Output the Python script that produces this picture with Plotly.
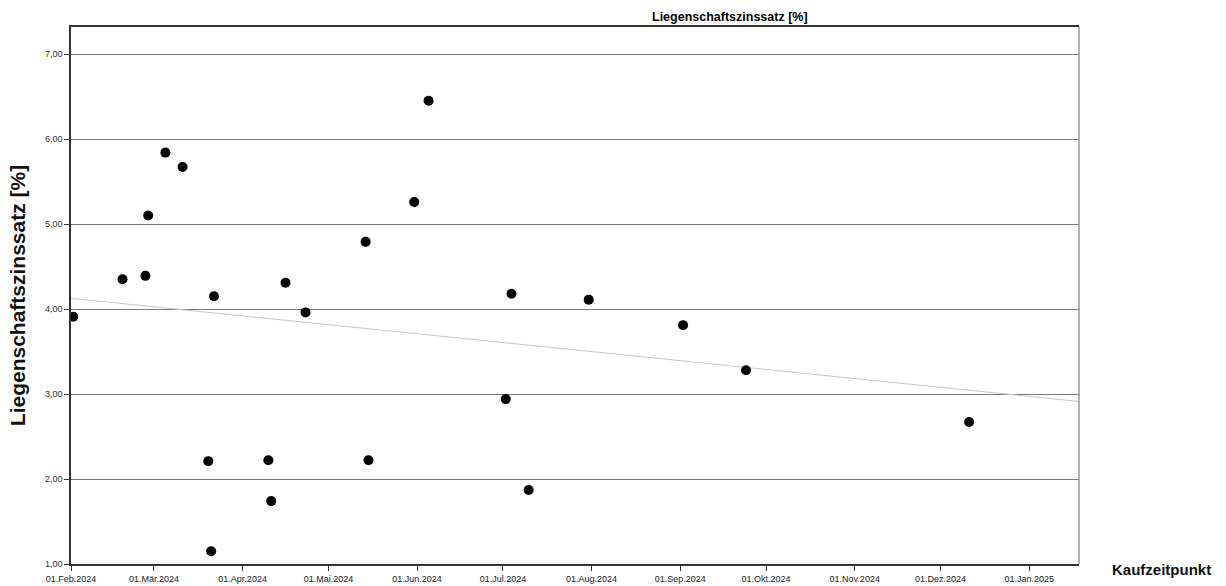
import numpy as np
import pandas as pd
import plotly.graph_objects as go

# ---- data ----
kaufdatum = [
    "2024-02-01 18:00", "2024-02-19", "2024-02-27", "2024-02-28", "2024-03-05",
    "2024-03-11", "2024-03-20", "2024-03-21", "2024-03-22", "2024-04-10",
    "2024-04-11", "2024-04-16", "2024-04-23", "2024-05-14", "2024-05-15",
    "2024-05-31", "2024-06-05", "2024-07-02", "2024-07-04", "2024-07-10",
    "2024-07-31", "2024-09-02", "2024-09-24", "2024-12-11",
]
zinssatz = [
    3.91, 4.35, 4.39, 5.10, 5.84,
    5.67, 2.21, 1.15, 4.15, 2.22,
    1.74, 4.31, 3.96, 4.79, 2.22,
    5.26, 6.45, 2.94, 4.18, 1.87,
    4.11, 3.81, 3.28, 2.67,
]
tick_dates = ["2024-02-01", "2024-03-01", "2024-04-01", "2024-05-01", "2024-06-01",
              "2024-07-01", "2024-08-01", "2024-09-01", "2024-10-01", "2024-11-01",
              "2024-12-01", "2025-01-01"]
tick_labels = ["01.Feb.2024", "01.Mär.2024", "01.Apr.2024", "01.Mai.2024", "01.Jun.2024",
               "01.Jul.2024", "01.Aug.2024", "01.Sep.2024", "01.Okt.2024", "01.Nov.2024",
               "01.Dez.2024", "01.Jan.2025"]
y_ticks = [1, 2, 3, 4, 5, 6, 7]
y_labels = ["1,00", "2,00", "3,00", "4,00", "5,00", "6,00", "7,00"]

x_start = "2024-02-01"
x_end = "2025-01-18 10:00"

# ---- linear fit line ----
t = pd.to_datetime(kaufdatum, format="mixed")
t0 = pd.Timestamp(x_start)
days = np.array([(d - t0).total_seconds() / 86400 for d in t])
slope, intercept = np.polyfit(days, np.array(zinssatz), 1)
fit_x = [pd.Timestamp(x_start), pd.Timestamp(x_end)]
fit_d = np.array([(d - t0).total_seconds() / 86400 for d in fit_x])
fit_y = slope * fit_d + intercept

FONT = "Liberation Sans, Arial, sans-serif"

fig = go.Figure()
fig.add_trace(go.Scatter(
    x=fit_x, y=fit_y, mode="lines",
    line=dict(color="#c8c8c8", width=1), hoverinfo="skip", showlegend=False,
))
fig.add_trace(go.Scatter(
    x=kaufdatum, y=zinssatz, mode="markers",
    marker=dict(color="black", size=10, line=dict(width=0)),
    showlegend=False,
))

fig.update_layout(
    width=1226, height=586,
    margin=dict(l=71, r=147, t=27, b=22),
    paper_bgcolor="white", plot_bgcolor="white",
    font=dict(family=FONT, color="#222", size=9),
    xaxis=dict(
        range=[x_start, x_end],
        tickvals=tick_dates, ticktext=tick_labels,
        showgrid=False, zeroline=False, automargin=False,
        showline=True, linecolor="#333", linewidth=1.5, mirror=True,
        ticks="outside", ticklen=5, tickcolor="#333",
        tickfont=dict(size=9, family=FONT, color="#222"),
        tickangle=0,
    ),
    yaxis=dict(
        range=[1, 7.318],
        tickvals=y_ticks, ticktext=y_labels,
        showgrid=True, gridcolor="#7a7a7a", gridwidth=1.3,
        zeroline=False, automargin=False,
        showline=True, linecolor="#333", linewidth=1.5,
        ticks="outside", ticklen=5, tickcolor="#333",
        tickfont=dict(size=9, family=FONT, color="#333"),
        title=dict(text="<b>Liegenschaftszinssatz [%]</b>",
                   font=dict(size=21, family=FONT, color="#111"), standoff=14),
    ),
    shapes=[
        dict(type="line", xref="paper", yref="paper", x0=1, x1=1, y0=0, y1=1,
             line=dict(color="#999", width=1.5)),
    ],
    annotations=[
        dict(text="<b>Liegenschaftszinssatz [%]</b>", xref="paper", yref="paper",
             x=(730 - 71) / 1008, y=1, yshift=10, xanchor="center", yanchor="middle",
             showarrow=False, font=dict(size=12.5, family=FONT, color="#000")),
        dict(text="<b>Kaufzeitpunkt</b>", xref="paper", yref="paper",
             x=1, xshift=31, y=0, yshift=-5, xanchor="left", yanchor="middle",
             showarrow=False, font=dict(size=15, family=FONT, color="#111")),
    ],
)

fig.write_html("out.html")
